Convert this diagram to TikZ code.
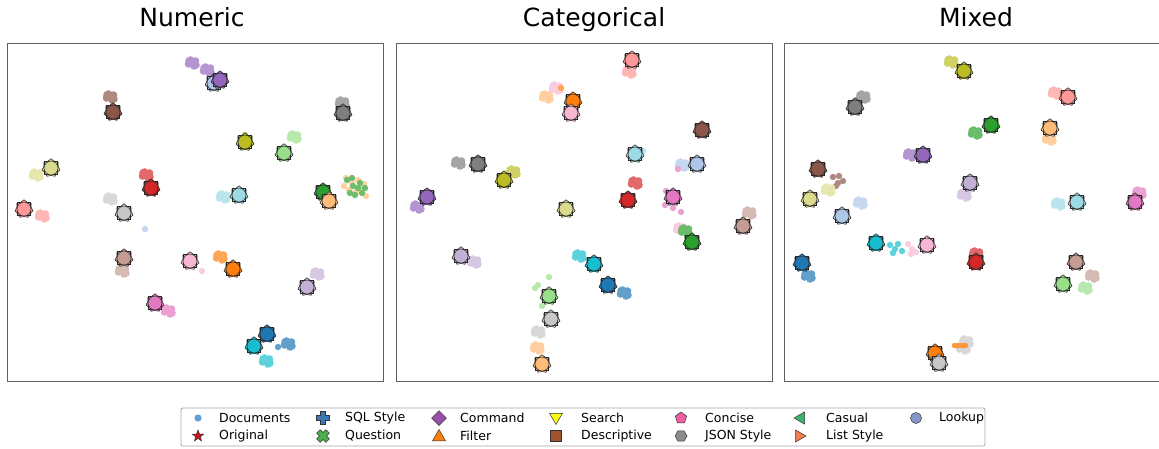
\documentclass[tikz,border=0pt]{standalone}
\usepackage{fontspec}
\setmainfont{DejaVu Sans}
\usetikzlibrary{shapes.geometric}
\definecolor{tblue}{RGB}{31,119,180}
\definecolor{tlblue}{RGB}{174,199,232}
\definecolor{torange}{RGB}{255,127,14}
\definecolor{tlorange}{RGB}{255,187,120}
\definecolor{tgreen}{RGB}{44,160,44}
\definecolor{tlgreen}{RGB}{152,223,138}
\definecolor{tred}{RGB}{214,39,40}
\definecolor{tlred}{RGB}{255,152,150}
\definecolor{tpurple}{RGB}{148,103,189}
\definecolor{tlpurple}{RGB}{197,176,213}
\definecolor{tbrown}{RGB}{140,86,75}
\definecolor{tlbrown}{RGB}{196,156,148}
\definecolor{tpink}{RGB}{227,119,194}
\definecolor{tlpink}{RGB}{247,182,210}
\definecolor{tgray}{RGB}{127,127,127}
\definecolor{tlgray}{RGB}{199,199,199}
\definecolor{tolive}{RGB}{188,189,34}
\definecolor{tlolive}{RGB}{219,219,141}
\definecolor{tcyan}{RGB}{23,190,207}
\definecolor{tlcyan}{RGB}{158,218,229}
\definecolor{framegray}{RGB}{95,95,95}
\definecolor{lgdoc}{RGB}{100,160,215}
\definecolor{lgred}{RGB}{200,20,30}
\definecolor{lgplus}{RGB}{60,120,180}
\definecolor{lgx}{RGB}{76,175,80}
\definecolor{lgdiam}{RGB}{150,80,170}
\definecolor{lgyel}{RGB}{250,250,20}
\definecolor{lgsq}{RGB}{160,82,45}
\definecolor{lgpent}{RGB}{235,95,165}
\definecolor{lghex}{RGB}{140,140,140}
\definecolor{lgcas}{RGB}{60,179,113}
\definecolor{lglist}{RGB}{240,128,80}
\definecolor{lglook}{RGB}{130,150,200}
\newcount\embn
\newcommand\emb[3]{%
  \global\advance\embn by 1
  \node[embstar,fill=#3] (es\the\embn) at (#1,#2) {};
  \node[embsq,fill=#3] (eq\the\embn) at (#1,#2) {};
  \node[embdot,fill=#3] (ed\the\embn) at (#1,#2) {};
}
\newcommand\cloud[3]{%
  \foreach \dx/\dy in {0/0,3.5/-2,-3.5/1,2/3,-1.5/-3,4/2,-3/-2}{%
    \fill[#3!70!white] ({#1+\dx},{#2+\dy}) circle (3.8pt);}%
}
\newcommand\pdot[3]{\fill[#3!70!white] (#1,#2) circle (3.2pt);}
\tikzset{
  embstar/.style={star, star points=7, star point ratio=1.25, minimum size=18.5pt, inner sep=0pt, draw=black!85, line width=0.5pt},
  embsq/.style={regular polygon, regular polygon sides=4, minimum size=19pt, inner sep=0pt, draw=black!85, line width=0.5pt},
  embdot/.style={circle, minimum size=14pt, inner sep=0pt, draw=black!80, line width=0.6pt},
  panel/.style={draw=framegray, line width=1pt},
  ptitle/.style={font=\fontsize{25}{28}\selectfont, anchor=base},
  lgtext/.style={font=\fontsize{12.5}{14}\selectfont, anchor=west, inner sep=0pt},
  lgmk/.style={draw=black!80, line width=0.5pt, inner sep=0pt}
}
\begin{document}
\begin{tikzpicture}[x=1pt,y=-1pt]
\useasboundingbox (0,0) rectangle (1159,448);
% titles
\node[ptitle] (t1) at (192,26) {Numeric};
\node[ptitle] (t2) at (594,26) {Categorical};
\node[ptitle] (t3) at (976,26) {Mixed};
% ---------------- Panel 1 ----------------
\cloud{192}{63}{tpurple}\cloud{207}{70}{tpurple}
\emb{214}{83}{tlblue}\emb{220}{80}{tpurple}
\cloud{110}{97}{tbrown}\emb{113}{112}{tbrown}
\cloud{342}{103}{tgray}\emb{343}{113}{tgray}
\pdot{245}{135}{tolive}\emb{245}{142}{tolive}
\cloud{294}{137}{tlgreen}\emb{284}{153}{tlgreen}
\cloud{36}{175}{tlolive}\emb{51}{168}{tlolive}
\cloud{146}{175}{tred}\emb{151}{188}{tred}
\foreach \px/\py in {346/178,352/183,358/180,364/184,349/190,356/192,362/189,366/196,344/186}{\pdot{\px}{\py}{tlorange}}
\foreach \px/\py in {347/180,353/186,360/183,355/195,362/193,350/193,358/188,365/188,352/178}{\pdot{\px}{\py}{tgreen}}
\emb{323}{192}{tgreen}\emb{329}{201}{tlorange}
\cloud{223}{197}{tlcyan}\emb{239}{195}{tlcyan}
\cloud{42}{216}{tlred}\emb{24}{209}{tlred}
\cloud{110}{199}{tlgray}\emb{124}{213}{tlgray}
\pdot{145}{229}{tlblue}
\cloud{122}{271}{tlbrown}\emb{124}{258}{tlbrown}
\pdot{202}{271}{tlpink}\emb{190}{261}{tlpink}
\cloud{220}{257}{torange}\emb{233}{269}{torange}
\cloud{317}{274}{tlpurple}\emb{307}{287}{tlpurple}
\cloud{168}{311}{tpink}\emb{155}{303}{tpink}
\cloud{288}{344}{tblue}\pdot{278}{347}{tblue}\emb{267}{334}{tblue}
\cloud{266}{361}{tcyan}\emb{254}{346}{tcyan}
\draw[panel] (7,43) rectangle (383,381);
% ---------------- Panel 2 ----------------
\cloud{629}{72}{tlred}\emb{632}{60}{tlred}
\cloud{546}{97}{tlorange}\cloud{556}{88}{tlpink}\pdot{561}{88}{torange}
\emb{573}{101}{torange}\emb{571}{113}{tlpink}
\emb{702}{130}{tbrown}
\pdot{643}{151}{tlcyan}\emb{635}{154}{tlcyan}
\cloud{682}{165}{tlblue}\pdot{678}{169}{tpink}\emb{697}{164}{tlblue}
\cloud{458}{163}{tgray}\emb{478}{164}{tgray}
\cloud{513}{172}{tolive}\emb{504}{180}{tolive}
\cloud{635}{183}{tred}\emb{628}{200}{tred}
\foreach \px/\py in {665/205,673/208,681/212,666/191}{\pdot{\px}{\py}{tpink}}
\emb{673}{197}{tpink}
\cloud{417}{207}{tpurple}\emb{427}{197}{tpurple}
\emb{566}{209}{tlolive}
\cloud{749}{213}{tlbrown}\emb{743}{226}{tlbrown}
\cloud{680}{229}{tlpink}\cloud{685}{231}{tgreen}\emb{692}{242}{tgreen}
\cloud{474}{262}{tlpurple}\emb{461}{256}{tlpurple}
\cloud{579}{256}{tcyan}\emb{594}{264}{tcyan}
\cloud{624}{293}{tblue}\emb{608}{285}{tblue}
\foreach \px/\py in {535/288,538/285,549/277,542/306}{\pdot{\px}{\py}{tlgreen}}
\emb{549}{296}{tlgreen}
\cloud{538}{332}{tlgray}\emb{551}{319}{tlgray}
\cloud{537}{348}{tlorange}\emb{542}{364}{tlorange}
\draw[panel] (396,43) rectangle (772,381);
% ---------------- Panel 3 ----------------
\cloud{951}{62}{tolive}\emb{964}{71}{tolive}
\cloud{863}{97}{tgray}\emb{855}{107}{tgray}
\cloud{1055}{93}{tlred}\emb{1068}{97}{tlred}
\cloud{975}{133}{tgreen}\emb{991}{125}{tgreen}
\cloud{1049}{139}{tlorange}\emb{1050}{128}{tlorange}
\cloud{910}{155}{tpurple}\emb{923}{155}{tpurple}
\foreach \px/\py in {833/177,839/176,838/183,843/181,836/186,831/188}{\pdot{\px}{\py}{tbrown}}
\cloud{828}{190}{tlolive}
\emb{818}{169}{tbrown}
\cloud{964}{195}{tlpurple}\emb{970}{183}{tlpurple}
\emb{810}{199}{tlolive}
\cloud{860}{203}{tlblue}\emb{842}{216}{tlblue}
\cloud{1058}{204}{tlcyan}\emb{1077}{202}{tlcyan}
\cloud{1139}{193}{tpink}\emb{1135}{202}{tpink}
\foreach \px/\py in {890/245,895/249,898/244,893/253,902/251}{\pdot{\px}{\py}{tcyan}}
\foreach \px/\py in {908/244,912/249,916/252,911/254}{\pdot{\px}{\py}{tlpink}}
\emb{876}{243}{tcyan}\emb{927}{245}{tlpink}
\cloud{976}{254}{tred}\emb{976}{262}{tred}
\cloud{808}{276}{tblue}\emb{802}{263}{tblue}
\cloud{1092}{276}{tlbrown}\emb{1076}{262}{tlbrown}
\cloud{1085}{288}{tlgreen}\emb{1063}{284}{tlgreen}
\cloud{963}{348}{tlgray}\cloud{966}{342}{tlgray}
\fill[torange!80!white,rounded corners=2pt] (952,343) rectangle (968,348);
\emb{935}{353}{torange}\emb{939}{363}{tlgray}
\draw[panel] (784,43) rectangle (1172,381);
% ---------------- Legend ----------------
\draw[black!35, line width=0.8pt, rounded corners=2pt] (181,408) rectangle (985,446);
% col 1
\fill[lgdoc] (198,418) circle (3.6pt);
\node[lgtext] (l1) at (219,418) {Documents};
\node[star, star points=5, star point ratio=2.4, minimum size=12pt, fill=lgred, lgmk] (m2) at (198,436) {};
\node[lgtext] (l2) at (219,436) {Original};
% col 2
\draw[lgmk, fill=lgplus] (320.5,411.5) -- (325.5,411.5) -- (325.5,415.5) -- (329.5,415.5) -- (329.5,420.5) -- (325.5,420.5) -- (325.5,424.5) -- (320.5,424.5) -- (320.5,420.5) -- (316.5,420.5) -- (316.5,415.5) -- (320.5,415.5) -- cycle;
\node[lgtext] (l3) at (345,418) {SQL Style};
\begin{scope}[shift={(323,436)}, rotate=45]
\draw[lgmk, fill=lgx] (-2.5,-6.5) -- (2.5,-6.5) -- (2.5,-2.5) -- (6.5,-2.5) -- (6.5,2.5) -- (2.5,2.5) -- (2.5,6.5) -- (-2.5,6.5) -- (-2.5,2.5) -- (-6.5,2.5) -- (-6.5,-2.5) -- (-2.5,-2.5) -- cycle;
\end{scope}
\node[lgtext] (l4) at (345,436) {Question};
% col 3
\node[diamond, minimum width=15pt, minimum height=15pt, fill=lgdiam, lgmk] (m5) at (439,418) {};
\node[lgtext] (l5) at (460,418) {Command};
\node[regular polygon, regular polygon sides=3, minimum size=15pt, fill=torange, lgmk] (m6) at (439,437) {};
\node[lgtext] (l6) at (460,436) {Filter};
% col 4
\node[regular polygon, regular polygon sides=3, shape border rotate=180, minimum size=15pt, fill=lgyel, lgmk] (m7) at (556,417) {};
\node[lgtext] (l7) at (581,418) {Search};
\node[rectangle, minimum size=11pt, fill=lgsq, lgmk] (m8) at (556,436) {};
\node[lgtext] (l8) at (581,436) {Descriptive};
% col 5
\node[regular polygon, regular polygon sides=5, minimum size=12pt, fill=lgpent, lgmk] (m9) at (681,418) {};
\node[lgtext] (l9) at (705,418) {Concise};
\node[regular polygon, regular polygon sides=6, minimum size=12pt, fill=lghex, lgmk] (m10) at (681,436) {};
\node[lgtext] (l10) at (705,436) {JSON Style};
% col 6
\node[regular polygon, regular polygon sides=3, shape border rotate=90, minimum size=14pt, fill=lgcas, lgmk] (m11) at (801,418) {};
\node[lgtext] (l11) at (826,418) {Casual};
\node[regular polygon, regular polygon sides=3, shape border rotate=-90, minimum size=14pt, fill=lglist, lgmk] (m12) at (799,436) {};
\node[lgtext] (l12) at (826,436) {List Style};
% col 7
\node[circle, minimum size=11pt, fill=lglook, lgmk] (m13) at (916,418) {};
\node[lgtext] (l13) at (939,418) {Lookup};
\end{tikzpicture}
\end{document}
